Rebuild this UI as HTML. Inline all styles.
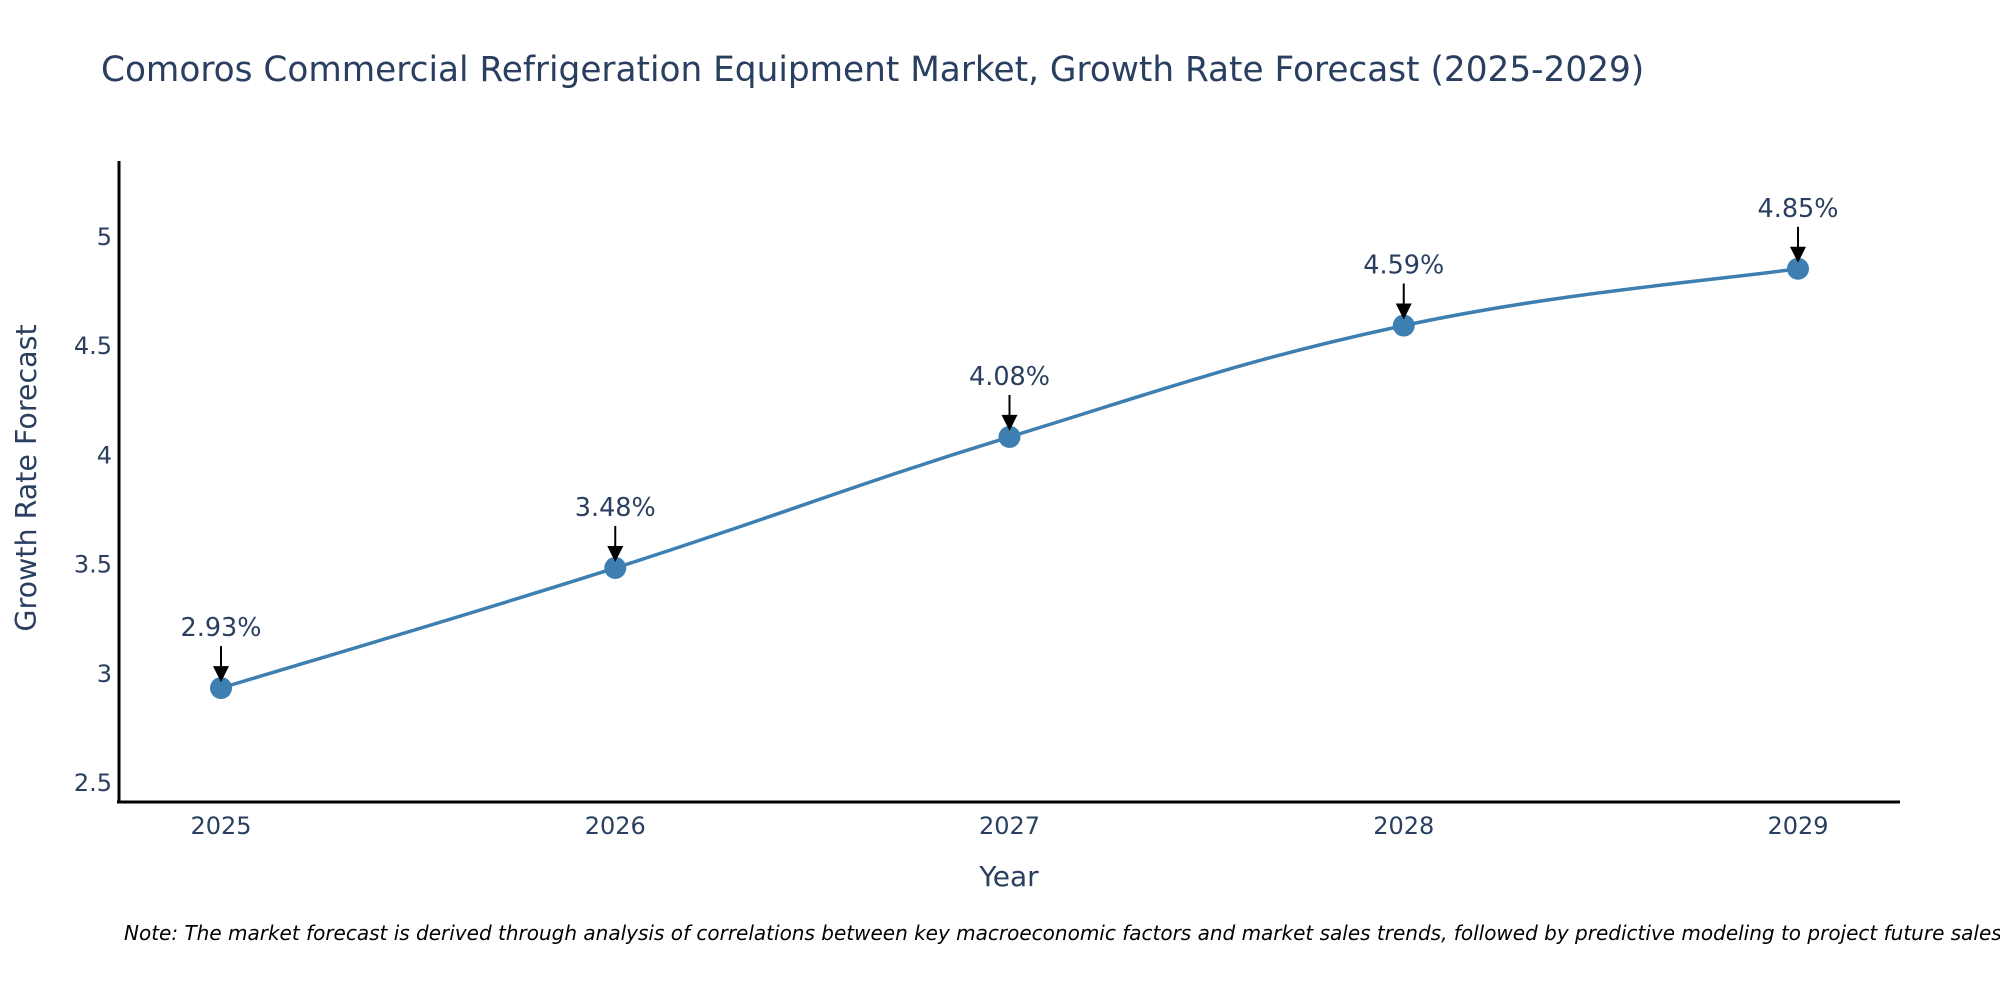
<!DOCTYPE html>
<html><head><meta charset="utf-8"><style>
html,body{margin:0;padding:0;background:#fff;}
svg{display:block;font-family:"DejaVu Sans","Liberation Sans",sans-serif;}
</style></head><body>
<svg id="chart" width="2000" height="1000" viewBox="0 0 2000 1000" xmlns="http://www.w3.org/2000/svg">
<rect width="2000" height="1000" fill="#fff"/>
<text x="101" y="81" font-size="34.3" fill="#2a3f5f">Comoros Commercial Refrigeration Equipment Market, Growth Rate Forecast (2025-2029)</text>
<g id="yticks"></g>
<g id="xticks"></g>
<line x1="119" y1="161" x2="119" y2="802" stroke="#000" stroke-width="3"/>
<line x1="117" y1="802" x2="1900" y2="802" stroke="#000" stroke-width="3"/>
<path id="line" fill="none" stroke="#3d7fb1" stroke-width="3.5"/>
<g id="marks"></g>
<text x="1009" y="886" font-size="28" fill="#2a3f5f" text-anchor="middle">Year</text>
<text transform="translate(36,478) rotate(-90)" font-size="28.5" fill="#2a3f5f" text-anchor="middle">Growth Rate Forecast</text>
<text x="124" y="940" font-size="20" font-style="italic" fill="#000">Note: The market forecast is derived through analysis of correlations between key macroeconomic factors and market sales trends, followed by predictive modeling to project future sales.</text>
</svg>
<script>
const years = [2025, 2026, 2027, 2028, 2029];
const values = [2.93, 3.48, 4.08, 4.59, 4.85];
const yTicks = [2.5, 3, 3.5, 4, 4.5, 5];
const NS = "http://www.w3.org/2000/svg";
const xScale = v => 221 + (v - 2025) * (1798 - 221) / 4;
const yScale = v => 236 + (5 - v) * 218.4;
const yg = document.getElementById('yticks');
yTicks.forEach(t => {
  const e = document.createElementNS(NS, 'text');
  
  
  e.setAttribute('x', 112); e.setAttribute('y', yScale(t) + 9);
  e.setAttribute('text-anchor', 'end'); e.setAttribute('font-size', '24'); e.setAttribute('fill', '#2a3f5f');
  e.textContent = String(t); yg.appendChild(e);
});
const xg = document.getElementById('xticks');
years.forEach(y => {
  const e = document.createElementNS(NS, 'text');
  
  
  e.setAttribute('x', xScale(y)); e.setAttribute('y', 834);
  e.setAttribute('text-anchor', 'middle'); e.setAttribute('font-size', '24'); e.setAttribute('fill', '#2a3f5f');
  e.textContent = String(y); xg.appendChild(e);
});
const pts = years.map((y, i) => [xScale(y), yScale(values[i])]);
let d = `M${pts[0][0]},${pts[0][1]}`;
for (let i = 0; i < pts.length - 1; i++) {
  const p0 = pts[i - 1] || pts[i], p1 = pts[i], p2 = pts[i + 1], p3 = pts[i + 2] || p2;
  const k = 0.2;
  d += ` C${p1[0] + (p2[0] - p0[0]) * k},${p1[1] + (p2[1] - p0[1]) * k} ${p2[0] - (p3[0] - p1[0]) * k},${p2[1] - (p3[1] - p1[1]) * k} ${p2[0]},${p2[1]}`;
}
document.getElementById('line').setAttribute('d', d);
const mg = document.getElementById('marks');
pts.forEach((p, i) => {
  const c = document.createElementNS(NS, 'circle');
  
  
  c.setAttribute('cx', p[0]); c.setAttribute('cy', p[1]); c.setAttribute('r', 11);
  c.setAttribute('fill', '#3d7fb1');
  mg.appendChild(c);
  const l = document.createElementNS(NS, 'line');
  
  
  l.setAttribute('x1', p[0]); l.setAttribute('y1', p[1] - 42); l.setAttribute('x2', p[0]); l.setAttribute('y2', p[1] - 18);
  l.setAttribute('stroke', '#000'); l.setAttribute('stroke-width', '2');
  mg.appendChild(l);
  const h = document.createElementNS(NS, 'polygon');
  
  
  h.setAttribute('points', `${p[0]-8},${p[1]-22} ${p[0]+8},${p[1]-22} ${p[0]},${p[1]-6}`);
  h.setAttribute('fill', '#000');
  mg.appendChild(h);
  const t = document.createElementNS(NS, 'text');
  
  
  t.setAttribute('x', p[0]); t.setAttribute('y', p[1] - 52);
  t.setAttribute('text-anchor', 'middle'); t.setAttribute('font-size', '25.5'); t.setAttribute('fill', '#2a3f5f');
  t.textContent = values[i].toFixed(2) + '%';
  mg.appendChild(t);
});
</script>
</body></html>
